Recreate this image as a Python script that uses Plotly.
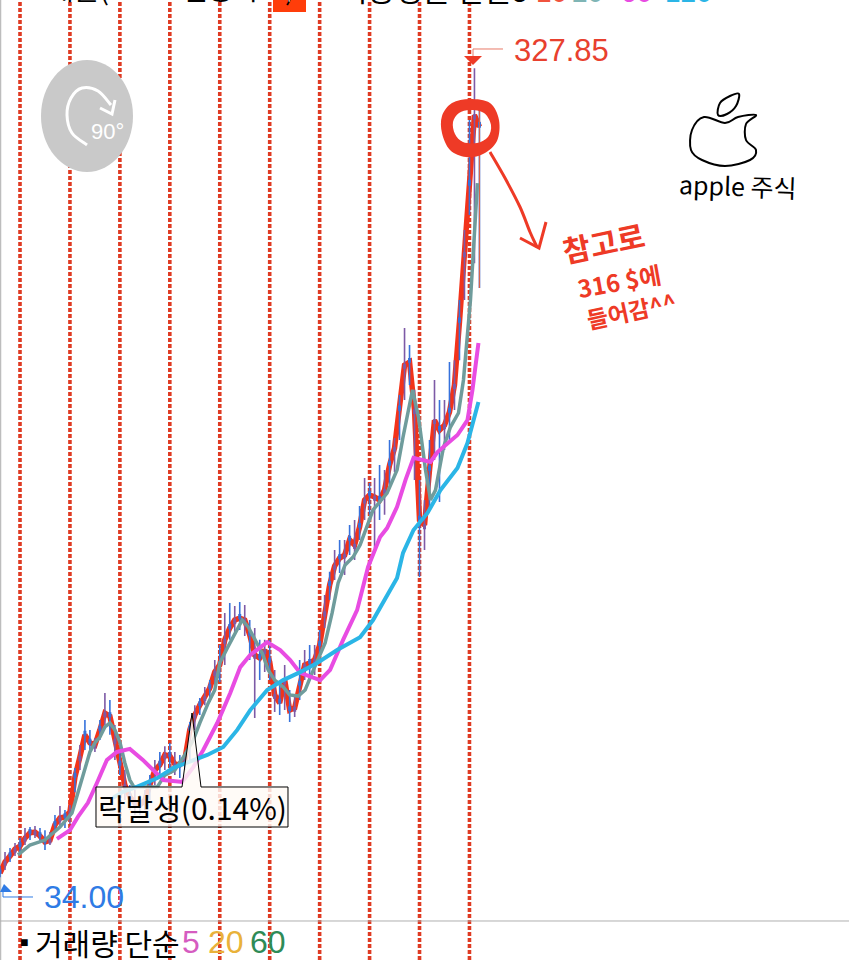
import plotly.graph_objects as go

W, H = 849, 960

# ---------- data (decimal year, price in $) ----------
bar_years = [round(2010.6 + i * 0.1, 1) for i in range(97)]
year_lines = [2011, 2012, 2013, 2014, 2015, 2016, 2017, 2018, 2019, 2020]

ma5 = [35.5, 39.5, 41.7, 44.2, 45.3, 48.2, 50.1, 50.4, 49, 46.8,
       47.5, 53, 55.5, 55.9, 57.7, 70.4, 77.7, 85.7, 82.8, 82,
       87.5, 93.6, 92.5, 83.8, 74.8, 67.5, 63.1, 61, 60.2, 62,
       67.5, 72.9, 74.8, 78.4, 78, 75.1, 74.8, 76.6, 87.5, 92.9,
       96.5, 99.4, 102.7, 108.5, 111.1, 120.2, 124.5, 127.4, 128.1, 127.4,
       122, 114.7, 113.6, 116.5, 112.2, 100.2, 97.3, 105.6, 94.7, 95.5,
       103.8, 111.1, 111.8, 112.9, 118.3, 130.3, 140.1, 147, 149.9, 151,
       156.5, 154.7, 161.2, 171, 172.8, 172.1, 171, 174.6, 183.7, 189.9,
       203.7, 220, 221.1, 203.7, 163.7, 161.9, 181.9, 200, 196.4, 198.2,
       203, 212.8, 235.7, 260.7, 285.4, 310.8, 306.5]
bar_high = [38.1, 43.2, 44.6, 46.4, 48.2, 51.9, 52.2, 52.6, 51.9, 51.1,
            50.4, 56.6, 59.9, 58.4, 60.2, 73.7, 82, 91.1, 87.5, 84.6,
            91.1, 100.9, 98.4, 89.3, 80.2, 72.9, 67.5, 65.7, 63.9, 65.7,
            71.1, 76.6, 79.5, 81.6, 82.7, 79.5, 78.4, 79.5, 90.4, 96.5,
            99.1, 103.1, 105.6, 112.9, 118.3, 130, 133.6, 132.5, 134, 132.9,
            127.4, 124.5, 120.2, 120.2, 120.2, 109.3, 103.8, 111.1, 102, 100.2,
            112.9, 116.5, 118.3, 118.3, 123.8, 136.5, 144.9, 152.8, 156.5, 156.5,
            161.9, 163.7, 168.8, 179, 177.2, 179, 183.7, 181.9, 192.8, 193.5,
            209.1, 233.5, 227.3, 211, 178.3, 171, 192.8, 214.6, 207.3, 207.3,
            221.1, 221.8, 243.6, 269.1, 309, 327.85, 316.3]
bar_low = [34, 36.6, 39.5, 41.7, 42.8, 45.7, 47.5, 48.2, 46.8, 43.9,
           45.7, 50.4, 52.6, 51.9, 53.3, 64.9, 72.9, 80.2, 78.4, 79.5,
           83.8, 89.3, 85.7, 76.6, 71.1, 62, 58.4, 56.6, 56.6, 58.4,
           62, 67.5, 71.1, 72.9, 72.2, 71.1, 70, 72.9, 76.6, 87.5,
           92.9, 96.5, 97.6, 103.8, 104.9, 111.1, 120.2, 123.1, 123.8, 121.6,
           112.9, 91.8, 105.6, 108.5, 105.6, 94, 92.9, 94.7, 90.4, 92.2,
           98.4, 105.6, 105.6, 107.4, 112.9, 124.5, 134.7, 141.9, 144.5, 143.8,
           151, 149.2, 156.5, 163.7, 165.6, 153.6, 163.7, 165.6, 176.4, 181.2,
           192.8, 207.3, 212.8, 178.3, 143, 152.8, 167.4, 185.5, 170.3, 189.2,
           192.8, 203.7, 221.8, 243.6, 274.5, 257, 248]
bar_open = [36.5, 38.5, 42.8, 43.2, 46.4, 47.2, 51.2, 49.5, 50, 47.8,
            46.5, 54.1, 54.5, 56.9, 56.6, 71.6, 76.6, 86.9, 84, 81,
            88.6, 92.5, 93.6, 82.7, 76, 66.4, 64.2, 60, 61.3, 61,
            68.6, 72, 76, 77.3, 79.2, 74, 76, 75.5, 88.6, 92,
            97.6, 98.3, 103.8, 107.4, 112.2, 119, 125.7, 126.3, 129.3, 126.3,
            123.2, 113.6, 114.8, 115.4, 113.4, 99, 98.5, 104.4, 95.8, 94.4,
            105, 110, 113, 111.8, 119.5, 129, 141.3, 146, 151, 150,
            157.7, 153.5, 162.4, 170, 174, 171, 172.2, 173.5, 185, 188.8,
            205, 219, 222.3, 202.5, 165, 160.7, 183.2, 198.9, 197.6, 197,
            204.2, 211.6, 237, 259.5, 287, 309.5, 308]

ma20_years = [2010.96, 2011.2, 2011.5, 2011.8, 2012.04, 2012.16, 2012.3, 2012.4, 2012.5, 2012.6,
              2012.7, 2012.8, 2012.9, 2013.0, 2013.1, 2013.2, 2013.28, 2013.75, 2013.9, 2014.1,
              2014.3, 2014.47, 2014.6, 2014.77, 2014.9, 2015.0, 2015.15, 2015.3, 2015.45, 2015.57,
              2015.7, 2015.85, 2015.97, 2016.1, 2016.27, 2016.4, 2016.57, 2016.71, 2016.85, 2016.97,
              2017.11, 2017.25, 2017.37, 2017.51, 2017.67, 2017.81, 2017.95, 2018.07, 2018.35, 2018.55,
              2018.67, 2018.86, 2018.98, 2019.12, 2019.22, 2019.32, 2019.42, 2019.48, 2019.62, 2019.78,
              2019.88, 2020.02, 2020.16]
ma20 = [42.1, 45.7, 47.5, 52.2, 57.3, 64.6, 72.9, 79.5, 82.8, 84.9,
        88.6, 90, 87.5, 83.1, 75.5, 69.3, 66.8, 66.8, 71.1, 72.9,
        78.4, 83.8, 90, 97.3, 102, 111.8, 117.2, 122, 127.4, 124.9,
        120.2, 115.4, 109.3, 105.6, 103.1, 100.2, 99.8, 102, 108.2, 112.9,
        119.1, 130, 140.9, 147.4, 150.3, 154.7, 161.2, 167.4, 173.5, 181.9,
        193.9, 211, 201.1, 181.9, 171, 174.6, 184.4, 190.2, 197.5, 202.6,
        214.6, 243.6, 286.1]

ma60_years = [2011.74, 2012.0, 2012.16, 2012.36, 2012.54, 2012.74, 2012.94, 2013.2, 2013.46, 2013.67,
              2013.87, 2014.25, 2014.47, 2014.67, 2014.95, 2015.21, 2015.41, 2015.61, 2015.95, 2016.21,
              2016.41, 2016.61, 2017.01, 2017.21, 2017.47, 2017.75, 2017.97, 2018.21, 2018.35, 2018.55,
              2018.72, 2018.88, 2019.06, 2019.22, 2019.36, 2019.56, 2019.76, 2019.96, 2020.06, 2020.18]
ma60 = [47.9, 51.1, 55.9, 61, 68.2, 76.6, 79.5, 80.6, 76.6, 72.9,
        69.3, 68.6, 74, 80.2, 90, 100.9, 110.3, 114.7, 119.4, 116.5,
        112.9, 108.2, 105.6, 109.3, 120.2, 131, 146.7, 157.6, 160.8, 168.5,
        178.3, 186.3, 185.5, 184.8, 188.4, 191.7, 194.6, 200, 211, 228]

ma120_years = [2012.86, 2013.06, 2013.34, 2013.75, 2014.07, 2014.35, 2014.75, 2015.07, 2015.35, 2015.61,
               2015.95, 2016.27, 2016.61, 2016.95, 2017.35, 2017.81, 2018.07, 2018.55, 2018.67, 2018.88,
               2019.16, 2019.42, 2019.76, 2019.96, 2020.18]
ma120 = [62.8, 65, 66.8, 70, 73.7, 75.5, 78.4, 81.3, 87.5, 94.7,
         102, 105.6, 108.5, 111.8, 116.5, 121.2, 127.4, 142.7, 151.8, 160.1,
         166.3, 174.6, 182.6, 191.7, 206.6]

last_wick_year = [2020.2, 2020.2]
last_wick_price = [316.3, 248]

high_label = "327.85"
low_label = "34.00"
callout_label = "락발생(0.14%)"
volume_label = "거래량 단순"
volume_periods = ["5", "20", "60"]
price_periods = ["5", "10", "20", "60", "120"]

# ---------- colours / fonts ----------
RED = "#ee3a26"
DOT_RED = "#df3a22"
BLUE = "#2f7be5"
KR = "Noto Sans CJK KR"
LAT = "Liberation Sans"

# ---------- helpers for decoration placed in page pixels ----------
def fx(x): return x / W
def fy(y): return 1 - y / H

def poly(pts, close=False):
    s = "M " + " L ".join(f"{fx(x):.5f} {fy(y):.5f}" for x, y in pts)
    return s + (" Z" if close else "")

def smooth(pts, close=False):
    """Catmull-Rom through hand-drawn stroke points."""
    n = len(pts)
    g = (lambda i: pts[i % n]) if close else (lambda i: pts[max(0, min(n - 1, i))])
    s = f"M {fx(pts[0][0]):.5f} {fy(pts[0][1]):.5f}"
    for i in range(n if close else n - 1):
        p0, p1, p2, p3 = g(i - 1), g(i), g(i + 1), g(i + 2)
        c1 = (p1[0] + (p2[0] - p0[0]) / 6, p1[1] + (p2[1] - p0[1]) / 6)
        c2 = (p2[0] - (p3[0] - p1[0]) / 6, p2[1] - (p3[1] - p1[1]) / 6)
        s += (f" C {fx(c1[0]):.5f} {fy(c1[1]):.5f} {fx(c2[0]):.5f} {fy(c2[1]):.5f}"
              f" {fx(p2[0]):.5f} {fy(p2[1]):.5f}")
    return s + (" Z" if close else "")

def path(d, color, width=1, fill=None, layer="above"):
    return dict(type="path", xref="paper", yref="paper", path=d, layer=layer,
                line=dict(color=color, width=width),
                fillcolor=fill if fill else "rgba(0,0,0,0)")

def ellipse(cx, cy, rx, ry, line_color=None, width=0, fill=None):
    return dict(type="circle", xref="paper", yref="paper", layer="above",
                x0=fx(cx - rx), x1=fx(cx + rx), y0=fy(cy + ry), y1=fy(cy - ry),
                line=dict(color=line_color or "rgba(0,0,0,0)", width=width),
                fillcolor=fill or "rgba(0,0,0,0)")

def label(text, x, y, size, color="#000", font=KR, anchor="center", angle=0):
    return dict(text=text, xref="paper", yref="paper", x=fx(x), y=fy(y),
                xanchor=anchor, yanchor="middle", showarrow=False, textangle=angle,
                font=dict(size=size, color=color, family=font))

# ---------- traces ----------
# MA5 sits on the base axes; the overlay axes draw the bars and the slower averages above it.
fig = go.Figure()
fig.add_trace(go.Scatter(x=bar_years, y=ma5, mode="lines", name="MA5",
                         line=dict(color="#f2331a", width=5.5, shape="linear")))
fig.add_trace(go.Candlestick(
    x=bar_years, open=bar_open, high=bar_high, low=bar_low, close=ma5, name="Price",
    xaxis="x2", yaxis="y2", whiskerwidth=0,
    increasing=dict(line=dict(color="#7d5aa6", width=1.6), fillcolor="#14143c"),
    decreasing=dict(line=dict(color="#3672dc", width=1.6), fillcolor="#7d5aa6")))
fig.add_trace(go.Scatter(x=last_wick_year, y=last_wick_price, mode="lines", name="last",
                         xaxis="x2", yaxis="y2", line=dict(color="#d8604a", width=1.2)))
fig.add_trace(go.Scatter(x=ma20_years, y=ma20, mode="lines", name="MA20",
                         xaxis="x2", yaxis="y2", line=dict(color="#6f9c9c", width=3.5)))
fig.add_trace(go.Scatter(x=ma60_years, y=ma60, mode="lines", name="MA60",
                         xaxis="x2", yaxis="y2", line=dict(color="#e84ce2", width=4)))
fig.add_trace(go.Scatter(x=ma120_years, y=ma120, mode="lines", name="MA120",
                         xaxis="x2", yaxis="y2", line=dict(color="#2bb5e6", width=4)))

# ---------- shapes ----------
shapes = []
for yr in year_lines:
    shapes.append(dict(type="line", xref="x", yref="paper", x0=yr, x1=yr, y0=0, y1=1,
                       layer="below", line=dict(color=DOT_RED, width=3.6, dash="4px,2px")))

# frame lines
shapes.append(path(poly([(0.5, 0), (0.5, 960)]), "#bdbdbd", 1.5, layer="below"))
shapes.append(path(poly([(0, 921), (849, 921)]), "#b0b0b0", 1, layer="below"))

# header badge
shapes.append(path(poly([(273, 0), (306, 0), (306, 12), (273, 12)], True), "#ff3d0a", 0, "#ff3d0a"))

# rotate badge
shapes.append(ellipse(87, 116, 46, 56, fill="#c9c9c9"))
shapes.append(path(smooth([(87, 145), (72, 133), (67, 115), (71, 98), (82, 88), (98, 91), (111, 105)]), "#ffffff", 3))
shapes.append(path(poly([(100, 108), (112, 114), (115, 100)]), "#ffffff", 3))

# price extreme pointers
shapes.append(path(poly([(503, 49), (473, 49), (473, 58)]), "#e87a68", 1))
shapes.append(path(poly([(464, 56), (482, 56), (473, 65)], True), RED, 0, RED))
shapes.append(path(poly([(33, 897), (3, 897), (3, 890)]), BLUE, 1))
shapes.append(path(poly([(0, 892), (12, 892), (4, 884)], True), BLUE, 0, BLUE))

# hand-drawn ring and arrow
ring_outer = [(470, 99), (490, 103), (499, 120), (497, 141), (483, 154), (466, 157), (450, 150), (442, 133), (442, 116), (452, 103)]
ring_inner = [(470, 110), (484, 113), (491, 125), (488, 137), (477, 143), (463, 142), (455, 134), (453, 122), (459, 113)]
shapes.append(path(smooth(ring_outer, True) + " " + smooth(ring_inner, True), RED, 0, RED))
shapes.append(path(smooth([(490, 152), (505, 178), (520, 207), (530, 232), (537, 247)]), RED, 3))
shapes.append(path(poly([(520, 238), (539, 248), (546, 222)]), RED, 3))

# hand-drawn apple
apple_body = [(725, 123), (704, 117), (692, 130), (691, 150), (702, 160), (725, 166), (750, 160), (756, 150), (746, 140), (746, 124), (756, 115), (738, 117)]
apple_leaf = [(718, 115), (720, 103), (730, 96), (739, 94), (736, 106), (727, 114)]
shapes.append(path(smooth(apple_body, True), "#000000", 2))
shapes.append(path(smooth(apple_leaf, True), "#000000", 2))

# callout
shapes.append(path(poly([(96, 787), (182, 787), (192, 713), (201, 787), (288, 787), (288, 827), (96, 827)], True),
                   "#000000", 1, "rgba(255,250,245,0.82)"))

# ---------- text ----------
annotations = [
    label(high_label, 512, 50, 31, "#e8402e", LAT, "left"),
    label(low_label, 42, 897, 32, BLUE, LAT, "left"),
    label("90°", 107, 132, 22, "#ffffff", LAT),
    label(callout_label, 192, 807, 30),
    label("<b>참고로</b>", 603, 242, 30, RED, KR, angle=-12),
    label("<b>316 $에</b>", 619, 280, 24, RED, KR, angle=-10),
    label("<b>들어감^^</b>", 631, 310, 23, RED, KR, angle=-12),
    label("apple 주식", 738, 185, 25, "#000000", KR, angle=2),
    label("■", 24, 942, 14, "#000000", LAT),
    label(volume_label, 33, 942, 30, "#000000", KR, "left"),
    label(volume_periods[0], 191, 942, 32, "#d55cc0", LAT),
    label(volume_periods[1], 226, 942, 32, "#e9b23a", LAT),
    label(volume_periods[2], 268, 942, 32, "#2e8b57", LAT),
    # header row, cut off by the top edge of the page
    label("애플(AAPL 일봉차트)", 46, -12, 28, "#000000", KR, "left"),
    label("↑", 289, -6, 20, "#ffffff", LAT),
    label("이동평균 단순", 338, -12, 30, "#000000", KR, "left"),
    label(price_periods[0], 520, -8, 28, "#000000", LAT),
    label(price_periods[1], 551, -8, 28, "#f0533e", LAT),
    label(price_periods[2], 587, -8, 28, "#7fb5b5", LAT),
    label(price_periods[3], 636, -8, 28, "#e84ce2", LAT),
    label(price_periods[4], 688, -8, 28, "#2bb5e6", LAT),
]

x_left = 2011 - 20 / 49.94
x_range = [x_left, x_left + W / 49.94]
y_range = [3.93, 352.6]
fig.update_layout(
    width=W, height=H, autosize=False,
    margin=dict(l=0, r=0, t=0, b=0, pad=0),
    paper_bgcolor="white", plot_bgcolor="white", showlegend=False,
    hovermode=False, boxgap=0.6,
    xaxis=dict(visible=False, range=x_range, rangeslider=dict(visible=False), fixedrange=True),
    yaxis=dict(visible=False, range=y_range, fixedrange=True),
    xaxis2=dict(visible=False, range=x_range, overlaying="x", rangeslider=dict(visible=False), fixedrange=True),
    yaxis2=dict(visible=False, range=y_range, overlaying="y", fixedrange=True),
    shapes=shapes, annotations=annotations,
)

fig.write_html("out.html", config=dict(displayModeBar=False, staticPlot=True),
               post_script="document.body.style.margin='0';document.body.style.overflow='hidden';")
